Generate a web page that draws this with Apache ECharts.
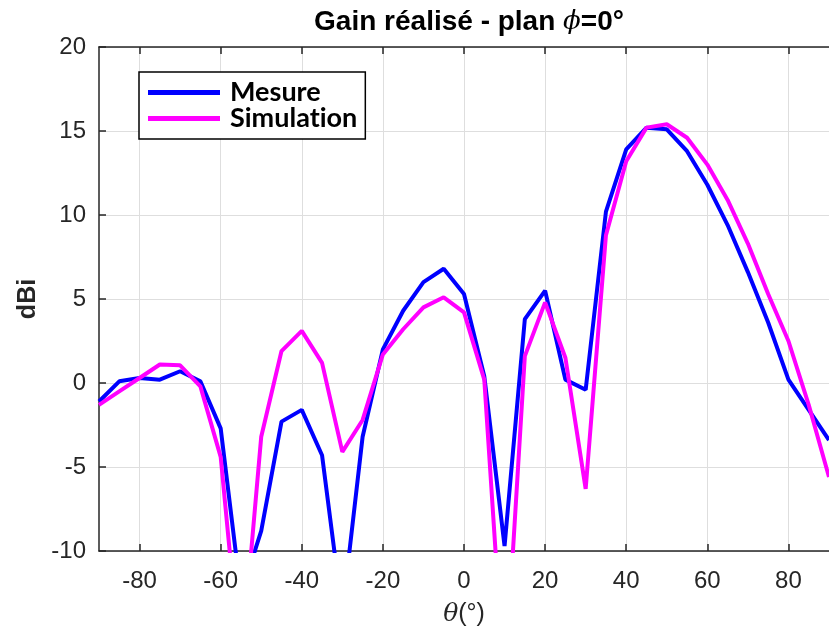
<!DOCTYPE html>
<html>
<head>
<meta charset="utf-8">
<script src="https://cdn.jsdelivr.net/npm/echarts@6/dist/echarts.min.js"></script>
<style>html,body{margin:0;padding:0;background:#fff;}#c{width:829px;height:637px;}</style>
</head>
<body>
<div id="c"></div>
<script>
const angles = [-90,-85,-80,-75,-70,-65,-60,-55,-50,-45,-40,-35,-30,-25,-20,-15,-10,-5,0,5,10,15,20,25,30,35,40,45,50,55,60,65,70,75,80,85,90];
const mesure = [-1.1,0.1,0.3,0.2,0.7,0.1,-2.7,-12.6,-8.8,-2.3,-1.6,-4.3,-13.7,-3.2,2.0,4.3,6.0,6.8,5.3,0.4,-9.7,3.8,5.5,0.2,-0.4,10.2,13.9,15.2,15.1,13.8,11.8,9.4,6.6,3.6,0.2,-1.6,-3.4];
const simulation = [-1.3,-0.5,0.3,1.1,1.05,-0.2,-4.4,-17,-3.2,1.9,3.1,1.2,-4.1,-2.2,1.7,3.2,4.5,5.1,4.2,0.2,-18.2,1.6,4.8,1.5,-6.3,8.8,13.2,15.2,15.4,14.6,13.0,10.9,8.3,5.3,2.5,-1.3,-5.6];
const xTicks = [-80,-60,-40,-20,0,20,40,60,80];
const seriesNames = ['Mesure','Simulation'];
const titleText = 'Gain réalisé - plan {phi|ϕ}=0°';

const pairs = (vals) => angles.map((a,i) => [a, vals[i]]);
const axisColor = '#262626';
const chart = echarts.init(document.getElementById('c'), null, {renderer:'canvas'});
chart.setOption({
  animation: false,
  backgroundColor: '#fff',
  title: {
    text: titleText,
    left: 469, top: 8, padding: 0, textAlign: 'center',
    textStyle: {
      fontFamily: 'Liberation Sans', fontWeight: 'bold', fontSize: 28, color: '#000',
      rich: { phi: {fontFamily: 'DejaVu Serif', fontStyle: 'italic', fontWeight: 'normal', fontSize: 26, color: '#000'} }
    }
  },
  grid: {left: 99, top: 47, width: 741, height: 504, containLabel: false},
  legend: {
    data: seriesNames,
    formatter: (name) => name.replace('ti', 't\u200Ci'),
    orient: 'vertical', left: 139, top: 72,
    padding: [7, 8, 7, 9],
    itemWidth: 72, itemHeight: 5, itemGap: -1,
    icon: 'rect',
    backgroundColor: '#fff', borderColor: '#000', borderWidth: 1.5, borderRadius: 0,
    itemStyle: {borderWidth: 0},
    textStyle: {fontFamily: 'Lato', fontWeight: 'bold', fontSize: 27, color: '#000', padding: [0,0,0,5]}
  },
  xAxis: [{
    type: 'value', min: -90, max: 90, position: 'bottom',
    name: '{i|θ}(°)', nameLocation: 'middle', nameGap: 51,
    nameTextStyle: {fontFamily: 'Liberation Sans', fontSize: 25, color: axisColor,
      rich: {i: {fontFamily: 'DejaVu Serif', fontStyle: 'italic', fontSize: 25, color: axisColor}}},
    axisLine: {show: true, onZero: false, lineStyle: {color: axisColor, width: 1.5}},
    axisTick: {show: true, inside: true, length: 7, customValues: xTicks, lineStyle: {color: axisColor, width: 1.5}},
    axisLabel: {customValues: xTicks, margin: 18, fontFamily: 'Liberation Sans', fontSize: 24, color: axisColor},
    splitLine: {show: true, lineStyle: {color: '#dedede', width: 1}}
  }, {
    type: 'value', min: -90, max: 90, position: 'top',
    axisLine: {show: true, onZero: false, lineStyle: {color: axisColor, width: 1.5}},
    axisTick: {show: true, inside: true, length: 7, customValues: xTicks, lineStyle: {color: axisColor, width: 1.5}},
    axisLabel: {show: false},
    splitLine: {show: false}
  }],
  yAxis: {
    type: 'value', min: -10, max: 20, interval: 5,
    name: 'dBi', nameLocation: 'middle', nameGap: 57, nameRotate: 90,
    nameTextStyle: {fontFamily: 'Liberation Sans', fontWeight: 'bold', fontSize: 25, color: axisColor},
    axisLine: {show: true, onZero: false, lineStyle: {color: axisColor, width: 1.5}},
    axisTick: {show: true, inside: true, length: 7, lineStyle: {color: axisColor, width: 1.5}},
    axisLabel: {margin: 13, fontFamily: 'Liberation Sans', fontSize: 24, color: axisColor},
    splitLine: {show: true, lineStyle: {color: '#dedede', width: 1}}
  },
  series: [
    {name: seriesNames[0], type: 'line', xAxisIndex: 0, data: pairs(mesure), showSymbol: false, symbol: 'none',
     color: '#0000ff', lineStyle: {color: '#0000ff', width: 4}, clip: true},
    {name: seriesNames[1], type: 'line', xAxisIndex: 0, data: pairs(simulation), showSymbol: false, symbol: 'none',
     color: '#ff00ff', lineStyle: {color: '#ff00ff', width: 4}, clip: true}
  ]
});
</script>
</body>
</html>
